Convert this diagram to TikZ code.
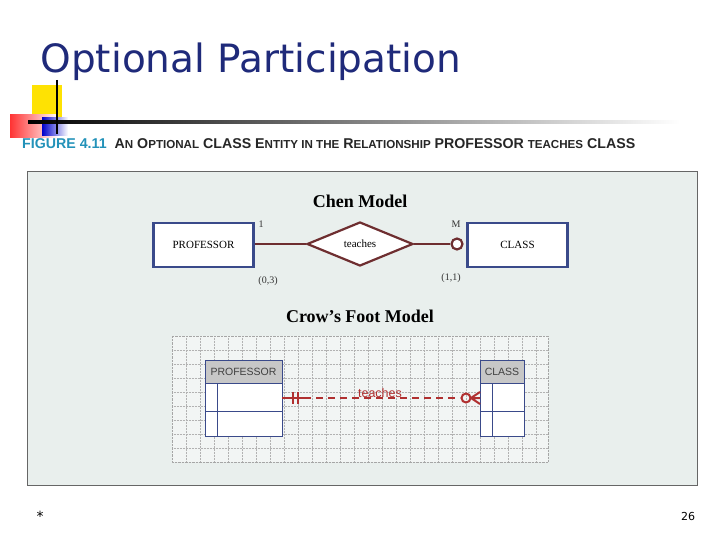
\documentclass[tikz,border=0pt]{standalone}
\usepackage{fontspec}
\setmainfont{DejaVu Sans}
\newfontfamily\capfont{Liberation Sans}
\newfontfamily\chenfont{Liberation Serif}
\usetikzlibrary{shapes.geometric,calc}
\definecolor{navy}{HTML}{1F2A7A}
\definecolor{maroon}{HTML}{6E2E30}
\definecolor{ent}{HTML}{3A4A8A}
\definecolor{crow}{HTML}{B03030}
\definecolor{panel}{HTML}{E9EFED}
\begin{document}
\begin{tikzpicture}[x=1pt,y=-1pt,
  chenent/.style={draw=ent,line width=2.2pt,fill=white,minimum width=100pt,minimum height=44pt,font=\chenfont\fontsize{11}{12}\selectfont},
  tbl/.style={draw=ent,line width=0.9pt},
  lbl/.style={font=\chenfont\fontsize{10}{11}\selectfont,text=black!80}]
\useasboundingbox (0,0) rectangle (720,540);
\fill[white] (0,0) rectangle (720,540);
% decor
\fill[yellow!85!orange] (32,85) rectangle (62,118);
\shade[left color=red!80, right color=white] (10,115) rectangle (58,138);
\shade[left color=blue!80!black, right color=white] (42,118) rectangle (68,136);
\shade[left color=black, right color=white] (28,121) rectangle (680,124);
\draw[black,line width=1.5pt] (57,80) -- (57,134);
\node[anchor=west,text=navy,font=\fontsize{39}{42}\selectfont] (title) at (37,62) {Optional Participation};
% caption
\node[anchor=west,font=\capfont\bfseries\fontsize{14.2}{16}\selectfont,inner sep=0] (cap) at (22,144)
 {\textcolor{ent!60!cyan}{FIGURE 4.11}\hspace{8pt}\textcolor{black!85}{A{\fontsize{11.6}{13}\selectfont N} O{\fontsize{11.6}{13}\selectfont PTIONAL} CLASS E{\fontsize{11.6}{13}\selectfont NTITY IN THE} R{\fontsize{11.6}{13}\selectfont ELATIONSHIP} PROFESSOR {\fontsize{11.6}{13}\selectfont TEACHES} CLASS}};
% panel
\draw[fill=panel,draw=black!60,line width=1pt] (27,172) rectangle (697,485);
\node[font=\chenfont\bfseries\fontsize{18}{20}\selectfont] (chen) at (360,201) {Chen Model};
\node[chenent] (prof) at (203.5,245) {PROFESSOR};
\node[chenent] (cls) at (517.5,245) {CLASS};
\node[diamond,draw=maroon,line width=2.2pt,fill=white,minimum width=106pt,minimum height=44pt,inner sep=0,aspect=2.4,font=\chenfont\fontsize{11}{12}\selectfont] (rel) at (360,244) {teaches};
\draw[maroon,line width=2.8pt] (prof.east|-rel) -- (rel.west);
\node[circle,draw=maroon,line width=2.2pt,fill=white,minimum size=11pt,inner sep=0] (opt) at (457,244) {};
\draw[maroon,line width=2.8pt] (rel.east) -- (opt.west);
\node[lbl] (one) at (261,224) {1};
\node[lbl] (m) at (456,224) {M};
\node[lbl] (c03) at (268,281) {(0,3)};
\node[lbl] (c11) at (451,278) {(1,1)};
\node[font=\chenfont\bfseries\fontsize{18}{20}\selectfont] (crow) at (360,316) {Crow’s Foot Model};
% grid
\fill[panel!60!white] (172,336) rectangle (548,462);
\foreach \gx in {186,200,...,546} \draw[black!30,densely dotted,line width=0.5pt] (\gx,336) -- (\gx,462);
\foreach \gy in {350,364,...,460} \draw[black!30,densely dotted,line width=0.5pt] (172,\gy) -- (548,\gy);
\draw[black!35,densely dotted] (172,336) rectangle (548,462);
% PROFESSOR table
\fill[white] (205,360) rectangle (282,436);
\fill[black!22] (205,360) rectangle (282,383);
\draw[tbl] (205,360) rectangle (282,436) (205,383) -- (282,383) (205,411) -- (282,411) (217,383) -- (217,436);
\node[font=\capfont\fontsize{10.5}{12}\selectfont,text=black!75] (pt) at (243.5,371.5) {PROFESSOR};
% CLASS table
\fill[white] (480,360) rectangle (524,436);
\fill[black!22] (480,360) rectangle (524,383);
\draw[tbl] (480,360) rectangle (524,436) (480,383) -- (524,383) (480,411) -- (524,411) (492,383) -- (492,436);
\node[font=\capfont\fontsize{10.5}{12}\selectfont,text=black!75] (ct) at (502,371.5) {CLASS};
\coordinate (pa) at (282,398);
\coordinate (ca) at (480,398);
\draw[crow,line width=2pt,dash pattern=on 7pt off 5pt] ($(pa)+(22,0)$) -- ($(ca)+(-20,0)$);
\draw[crow,line width=2pt] (pa) -- ++(22,0);
\draw[crow,line width=2pt] (293,392) -- (293,404) (298,392) -- (298,404);
\draw[crow,line width=2pt] (466,398) circle (4.5pt);
\draw[crow,line width=2pt] (471,398) -- (ca) (471,398) -- (480,392) (471,398) -- (480,404);
\node[font=\capfont\fontsize{12.5}{14}\selectfont,text=crow] (tch) at (380,393) {teaches};
% footer
\node[font=\fontsize{14}{16}\selectfont] (star) at (40,516) {*};
\node[font=\fontsize{11}{13}\selectfont] (pg) at (688,516) {26};
\end{tikzpicture}
\end{document}
